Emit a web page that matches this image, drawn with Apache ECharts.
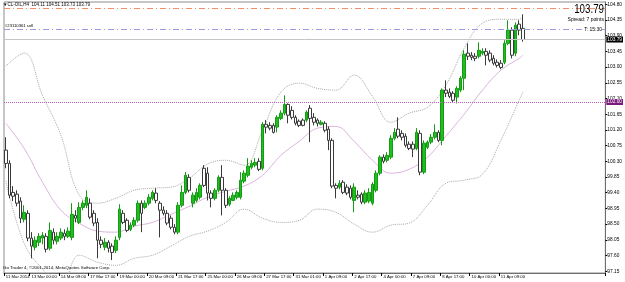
<!DOCTYPE html>
<html>
<head>
<meta charset="utf-8">
<script src="https://cdn.jsdelivr.net/npm/echarts@6/dist/echarts.min.js"></script>
<style>
  html, body { margin: 0; padding: 0; background: #fff; }
  #chart { width: 625px; height: 282px; }
</style>
</head>
<body>
<div id="chart"></div>
<script>
// CL-OIL H4 bars
const opens = [
  100.62, 100.24, 99.41, 99.36, 99.16, 98.64, 98.81, 98.10, 97.84, 97.98,
  98.10, 98.15, 97.81, 98.27, 98.01, 98.10, 98.24, 98.15, 98.12, 98.75,
  98.55, 98.98, 99.04, 99.10, 98.81, 98.55, 98.04, 97.84, 97.98, 97.87,
  97.75, 98.12, 98.81, 98.61, 98.35, 98.47, 98.61, 99.10, 98.98, 99.10,
  99.24, 99.39, 99.10, 98.90, 98.81, 98.67, 98.41, 98.27, 99.04, 99.41,
  99.84, 99.10, 99.18, 99.27, 100.10, 99.96, 99.39, 99.24, 99.47, 99.84,
  99.47, 99.07, 99.18, 99.27, 99.27, 99.73, 99.90, 100.13, 100.19, 100.30,
  100.10, 101.36, 101.33, 101.33, 101.28, 101.53, 101.68, 101.93, 101.76, 101.56,
  101.45, 101.48, 101.48, 101.82, 101.56, 101.48, 101.36, 101.39, 101.22, 100.90,
  99.61, 99.56, 99.70, 99.56, 99.53, 99.18, 99.33, 99.36, 99.13, 99.16,
  99.10, 99.47, 99.96, 100.42, 100.33, 100.42, 100.96, 101.22, 101.10, 101.02,
  100.79, 100.79, 100.67, 101.10, 99.99, 100.70, 100.85, 100.99, 101.13, 100.90,
  102.34, 102.28, 102.25, 102.14, 102.34, 102.68, 103.40, 103.34, 103.31, 103.31,
  103.40, 103.45, 103.40, 103.25, 103.14, 103.11, 103.14, 103.68, 104.06, 103.40,
  104.23, 104.11
];
const closes = [
  100.24, 99.33, 99.30, 99.10, 98.67, 98.84, 98.10, 97.87, 98.04, 98.15,
  98.18, 97.78, 98.32, 98.04, 98.15, 98.27, 98.15, 98.30, 98.78, 98.67,
  98.98, 99.10, 99.27, 98.70, 98.53, 98.04, 97.92, 97.98, 97.81, 97.69,
  98.04, 98.93, 98.55, 98.32, 98.47, 98.61, 99.10, 98.81, 99.10, 99.27,
  99.41, 99.18, 98.90, 98.81, 98.53, 98.41, 98.27, 99.04, 99.41, 99.90,
  99.47, 99.33, 99.41, 99.61, 99.61, 99.39, 99.24, 99.47, 99.84, 99.47,
  99.04, 99.24, 99.33, 99.41, 99.76, 99.96, 100.16, 100.24, 100.27, 100.07,
  101.36, 101.28, 101.25, 101.13, 101.56, 101.68, 101.93, 101.62, 101.56, 101.39,
  101.33, 101.33, 101.71, 101.53, 101.42, 101.39, 101.42, 101.19, 100.90, 99.59,
  99.53, 99.67, 99.41, 99.39, 99.27, 99.56, 99.27, 99.13, 99.39, 99.41,
  99.64, 99.96, 100.42, 100.30, 100.47, 100.96, 101.13, 101.02, 100.99, 100.76,
  100.67, 100.65, 101.13, 99.99, 100.82, 100.85, 100.99, 101.13, 100.90, 102.34,
  102.25, 102.16, 102.05, 102.39, 102.68, 103.37, 103.31, 103.28, 103.25, 103.48,
  103.45, 103.34, 103.20, 103.11, 103.05, 102.99, 103.68, 104.06, 103.34, 104.20,
  104.06, 103.79
];
const lows = [
  100.10, 99.24, 99.16, 99.01, 98.53, 98.55, 98.01, 97.52, 97.75, 97.87,
  97.92, 97.69, 97.75, 97.92, 97.92, 98.04, 98.04, 98.10, 98.04, 98.55,
  98.50, 98.90, 98.96, 98.64, 98.44, 97.52, 97.81, 97.75, 97.69, 97.47,
  97.67, 98.04, 98.50, 98.27, 98.30, 98.41, 98.55, 98.27, 98.93, 99.04,
  99.18, 99.10, 98.12, 98.75, 98.47, 98.35, 98.21, 98.21, 98.98, 99.36,
  99.41, 98.98, 99.13, 99.21, 99.56, 99.18, 98.98, 99.18, 99.41, 98.75,
  98.96, 99.01, 99.16, 99.21, 99.21, 99.67, 99.84, 100.07, 100.13, 100.02,
  100.04, 101.10, 101.19, 101.10, 101.13, 101.48, 101.62, 101.39, 101.50, 101.33,
  101.28, 101.30, 101.42, 100.85, 101.33, 101.30, 101.33, 101.13, 100.62, 99.53,
  99.24, 99.50, 99.36, 99.33, 99.21, 98.84, 99.21, 99.07, 99.07, 99.10,
  99.04, 99.41, 99.90, 100.24, 100.27, 100.36, 100.90, 100.96, 100.90, 100.70,
  100.62, 100.42, 100.62, 99.90, 99.93, 100.65, 100.79, 100.93, 100.85, 100.76,
  102.14, 102.11, 101.99, 101.96, 102.28, 102.34, 103.20, 103.20, 103.17, 103.25,
  103.34, 103.05, 103.14, 103.05, 102.99, 102.94, 103.08, 103.63, 103.25, 103.31,
  103.91, 103.73
];
const highs = [
  100.99, 100.33, 99.59, 99.47, 99.27, 99.04, 98.90, 98.27, 98.15, 98.24,
  98.27, 98.24, 98.55, 98.38, 98.27, 98.38, 98.35, 98.41, 99.10, 98.90,
  99.13, 99.18, 99.47, 99.24, 98.90, 98.67, 98.15, 98.10, 98.04, 97.95,
  98.15, 99.07, 98.90, 98.67, 98.55, 98.70, 99.18, 99.18, 99.18, 99.36,
  99.47, 99.53, 99.16, 99.01, 98.90, 98.75, 98.50, 99.13, 99.61, 99.99,
  99.93, 99.41, 99.53, 99.67, 100.19, 100.13, 99.47, 99.53, 99.90, 100.19,
  99.53, 99.30, 99.41, 99.47, 99.99, 100.04, 100.39, 100.33, 100.39, 100.39,
  101.42, 101.48, 101.42, 101.39, 101.62, 101.76, 102.19, 101.96, 101.88, 101.62,
  101.50, 101.53, 101.76, 101.91, 101.68, 101.53, 101.48, 101.45, 101.30, 100.96,
  99.67, 99.76, 99.76, 99.64, 99.61, 99.67, 99.47, 99.41, 99.47, 99.53,
  99.70, 100.04, 100.47, 100.50, 100.56, 101.05, 101.25, 101.56, 101.19, 101.10,
  100.87, 100.87, 101.25, 101.19, 100.90, 100.90, 101.08, 101.36, 101.19, 102.39,
  102.62, 102.39, 102.31, 102.45, 102.74, 103.48, 103.68, 103.43, 103.40, 103.71,
  103.54, 103.54, 103.48, 103.34, 103.22, 103.20, 103.77, 104.34, 104.14, 104.28,
  104.34, 104.51
];

// empty slots to the right of the last bar (chart shift)
const slotCount = 164;

// time labels on the bottom axis and the bar slot each one sits at
const timeLabels = [
  '11 Mar 2014', '13 Mar 00:00', '14 Mar 09:00', '17 Mar 17:00', '19 Mar 00:00',
  '20 Mar 09:00', '21 Mar 17:00', '25 Mar 00:00', '26 Mar 09:00', '27 Mar 17:00',
  '31 Mar 01:00', '1 Apr 09:00', '2 Apr 17:00', '4 Apr 00:00', '7 Apr 09:00',
  '8 Apr 17:00', '10 Apr 00:00', '11 Apr 09:00'
];
const labelSlots = [0, 7, 15, 23, 31, 39, 47, 55, 63, 71, 79, 87, 95, 103, 111, 119, 127, 135];

// price scale labels
const yTicks = [
  97.15, 97.60, 98.05, 98.50, 98.95, 99.40, 99.85, 100.30, 100.75,
  101.20, 101.65, 102.10, 102.55, 103.00, 103.45, 103.90, 104.35, 104.80
];

// Bollinger bands, sampled every 5 bars
const bandIdx = [0, 5, 10, 15, 20, 25, 30, 35, 40, 45, 50, 55, 60, 65, 70, 75, 80, 85, 90, 95,
  100, 105, 110, 115, 120, 125, 130, 135, 140, 141];
const upperBand = [103.03, 103.40, 102.19, 101.05, 99.33, 99.10, 99.24, 99.47, 99.53, 99.56,
  99.81, 100.22, 100.33, 100.19, 101.19, 102.28, 102.54, 102.39, 102.34, 102.77,
  102.16, 101.42, 101.68, 101.85, 102.48, 103.54, 104.26, 104.37, 104.37, 104.43];
const middleBand = [101.39, 100.67, 99.70, 98.90, 98.53, 98.30, 98.27, 98.44, 98.55, 98.78,
  99.01, 99.27, 99.44, 99.59, 99.90, 100.47, 100.87, 101.25, 101.30, 100.87,
  100.33, 99.96, 100.07, 100.42, 101.02, 101.65, 102.34, 102.91, 103.25, 103.34];
const lowerBand = [99.73, 97.95, 97.21, 96.75, 97.61, 97.41, 97.32, 97.52, 97.61, 97.87,
  98.15, 98.30, 98.55, 98.93, 98.67, 98.55, 98.61, 98.93, 98.84, 98.50,
  98.27, 98.47, 98.53, 99.04, 99.67, 99.76, 99.93, 100.90, 102.05, 102.28];

// horizontal levels
const stopLevel = 104.69;
const orderLevel = 104.09;
const bidLevel = 103.79;
const alertLevel = 102.00;

const symbolInfo = 'CL-OIL,H4  104.11 104.51 103.73 103.79';

const chart = echarts.init(document.getElementById('chart'), null, { renderer: 'canvas' });

const slots = [];
for (let i = 0; i < slotCount; i++) slots.push(String(i));
const candles = opens.map((o, i) => [o, closes[i], lows[i], highs[i]]);
const pairs = (vals) => bandIdx.map((k, i) => [k, vals[i]]);
const isLabelSlot = (i) => labelSlots.indexOf(i) >= 0;

const smallFont = '"Liberation Sans", Arial, sans-serif';

const option = {
  animation: false,
  backgroundColor: '#fff',
  grid: {
    left: 4, right: 19, top: 2, bottom: 9,
    show: true, borderColor: '#8c8c8c', borderWidth: 1, backgroundColor: '#fff'
  },
  xAxis: {
    type: 'category',
    data: slots,
    boundaryGap: true,
    axisLine: { lineStyle: { color: '#6e6e6e' } },
    axisTick: {
      show: true, interval: isLabelSlot, length: 3, inside: false,
      lineStyle: { color: '#000' }
    },
    axisLabel: {
      interval: isLabelSlot,
      formatter: (v, i) => timeLabels[labelSlots.indexOf(i)] || '',
      align: 'left', margin: 2, fontSize: 4.3, color: '#000', fontFamily: smallFont
    },
    splitLine: { show: false }
  },
  yAxis: {
    type: 'value',
    position: 'right',
    min: 97.10,
    max: 104.865,
    axisLine: { show: true, lineStyle: { color: '#6e6e6e' } },
    axisTick: { show: true, length: 2, customValues: yTicks, lineStyle: { color: '#000' } },
    axisLabel: {
      customValues: yTicks,
      formatter: (v) => v.toFixed(2),
      margin: 2, fontSize: 4.8, color: '#000', fontFamily: smallFont
    },
    splitLine: { show: false }
  },
  series: [
    {
      name: 'upper',
      type: 'line',
      data: pairs(upperBand),
      smooth: 0.4,
      showSymbol: false,
      lineStyle: { color: '#a8a8a8', width: 1, type: 'dotted' },
      z: 1
    },
    {
      name: 'middle',
      type: 'line',
      data: pairs(middleBand),
      smooth: 0.4,
      showSymbol: false,
      lineStyle: { color: '#dcb4dc', width: 1 },
      z: 1
    },
    {
      name: 'lower',
      type: 'line',
      data: pairs(lowerBand),
      smooth: 0.4,
      showSymbol: false,
      lineStyle: { color: '#a8a8a8', width: 1, type: 'dotted' },
      z: 1
    },
    {
      name: 'CL-OIL',
      type: 'candlestick',
      data: candles,
      barWidth: 3.3,
      itemStyle: {
        color: '#1fbf1f',
        color0: '#ffffff',
        borderColor: '#169a16',
        borderColor0: '#3a3a3a',
        borderWidth: 1
      },
      z: 3,
      markLine: {
        symbol: 'none',
        silent: true,
        animation: false,
        data: [
          { yAxis: stopLevel, lineStyle: { color: '#f2906a', width: 1, type: [6, 3, 1, 3] }, label: { show: false } },
          { yAxis: orderLevel, lineStyle: { color: '#9c9ce4', width: 1, type: [6, 3, 1, 3] }, label: { show: false } },
          {
            yAxis: bidLevel, lineStyle: { color: '#c4c4c4', width: 1, type: 'solid' },
            label: {
              show: true, position: 'end', distance: 1, formatter: bidLevel.toFixed(2),
              backgroundColor: '#000', color: '#fff', fontSize: 4.8, padding: [1, 1, 0, 1], fontFamily: smallFont
            }
          },
          {
            yAxis: alertLevel, lineStyle: { color: '#c45ec4', width: 1, type: 'dotted' },
            label: {
              show: true, position: 'end', distance: 1, formatter: alertLevel.toFixed(2),
              backgroundColor: '#7a1a7a', color: '#fff', fontSize: 4.8, padding: [1, 1, 0, 1], fontFamily: smallFont
            }
          }
        ]
      }
    }
  ],
  graphic: [
    {
      type: 'text', left: 3, top: 2, z: 10,
      style: { text: '\u25BC' + symbolInfo, font: '4.5px "Liberation Sans", "DejaVu Sans", sans-serif', fill: '#000' }
    },
    {
      type: 'text', left: 5, top: 23.5, z: 10,
      style: { text: '#23110361 sell', font: '4.2px ' + smallFont, fill: '#000' }
    },
    {
      type: 'text', x: 604, y: 9, scaleX: 0.75, z: 10,
      style: { text: bidLevel.toFixed(2), font: '13px ' + smallFont, fill: '#000', align: 'right', verticalAlign: 'middle' }
    },
    {
      type: 'text', x: 604, y: 19.5, z: 10,
      style: { text: 'Spread: 7 points', font: '5px ' + smallFont, fill: '#000', align: 'right', verticalAlign: 'middle' }
    },
    {
      type: 'text', x: 602, y: 29.5, z: 10,
      style: { text: 'T: 15:30', font: '5px ' + smallFont, fill: '#000', align: 'right', verticalAlign: 'middle', backgroundColor: '#fff' }
    },
    {
      type: 'text', left: 3, y: 270, z: 10,
      style: { text: 'Go Trader 4, \u00A92001-2014, MetaQuotes Software Corp.', font: '4.4px ' + smallFont, fill: '#000', verticalAlign: 'bottom' }
    }
  ]
};

chart.setOption(option);
</script>
</body>
</html>
